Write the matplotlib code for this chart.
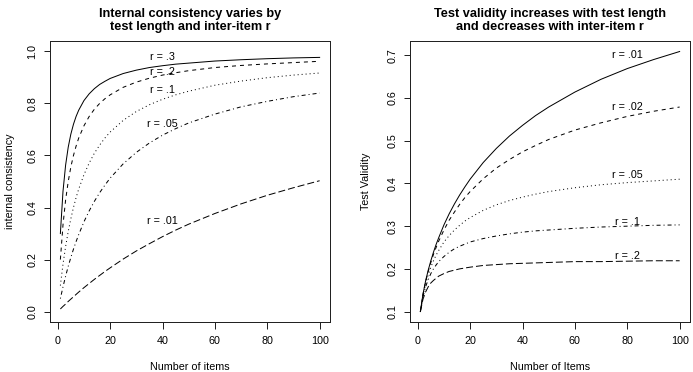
import matplotlib
matplotlib.use("Agg")
import matplotlib.pyplot as plt

plt.rcParams['font.family'] = ['Liberation Sans', 'DejaVu Sans']

# Number of items (x positions)
n_items = [1, 2, 3, 4, 5, 6, 7, 8, 10, 12, 14, 16, 18, 20, 25, 30, 35, 40, 45,
           50, 60, 70, 80, 90, 100]

# Left panel: internal consistency by inter-item r
ic_r30 = [.300, .462, .563, .632, .682, .720, .750, .774, .811, .837, .857, .873, .885,
          .896, .915, .928, .938, .945, .951, .955, .963, .968, .972, .975, .977]
ic_r20 = [.200, .333, .429, .500, .556, .600, .636, .667, .714, .750, .778, .800, .818,
          .833, .862, .882, .897, .909, .918, .926, .938, .946, .952, .957, .962]
ic_r10 = [.100, .182, .250, .308, .357, .400, .438, .471, .526, .571, .609, .640, .667,
          .690, .735, .769, .795, .816, .833, .847, .870, .886, .899, .909, .917]
ic_r05 = [.050, .095, .136, .174, .208, .240, .269, .296, .345, .387, .424, .457, .486,
          .513, .568, .612, .648, .678, .703, .725, .759, .787, .808, .826, .840]
ic_r01 = [.010, .020, .029, .039, .048, .057, .066, .075, .092, .108, .124, .139, .154,
          .168, .202, .233, .261, .288, .313, .336, .377, .414, .447, .476, .503]

# Right panel: test validity by inter-item r
tv_r01 = [.100, .141, .172, .197, .219, .239, .257, .273, .303, .329, .352, .373, .392,
          .410, .449, .482, .511, .536, .559, .579, .614, .644, .669, .690, .709]
tv_r02 = [.100, .140, .170, .194, .215, .234, .250, .265, .291, .314, .333, .351, .367,
          .381, .411, .436, .456, .474, .489, .503, .525, .542, .557, .569, .579]
tv_r05 = [.100, .138, .165, .186, .204, .219, .232, .243, .263, .278, .291, .302, .312,
          .320, .337, .350, .360, .368, .375, .381, .390, .397, .402, .406, .410]
tv_r10 = [.100, .135, .158, .175, .189, .200, .209, .217, .229, .239, .247, .253, .258,
          .263, .271, .277, .282, .286, .289, .291, .295, .298, .300, .302, .303]
tv_r20 = [.100, .129, .146, .158, .167, .173, .178, .183, .189, .194, .197, .200, .202,
          .204, .208, .210, .212, .213, .214, .215, .217, .217, .218, .219, .219]

left_labels = ["r = .3", "r = .2", "r = .1", "r = .05", "r = .01"]
left_label_y = [0.98, 0.92, 0.85, 0.72, 0.35]
right_labels = ["r = .01", "r = .02", "r = .05", "r = .1", "r = .2"]
right_label_y = [0.70, 0.58, 0.42, 0.31, 0.23]

styles = ['-', (0, (4, 4)), (0, (1, 3)), (0, (1, 3, 4, 3)), (0, (7, 3))]

FS = 10.7
TFS = 12.8

W, H = 693, 372
fig = plt.figure(figsize=(W / 72, H / 72), dpi=72)

def px_axes(x0, x1, y0, y1):
    return fig.add_axes([x0 / W, 1 - y1 / H, (x1 - x0) / W, (y1 - y0) / H])

axL = px_axes(50, 330, 41, 322)
axR = px_axes(410, 690, 41, 322)

def style_axes(ax):
    for s in ax.spines.values():
        s.set_color('#222222')
        s.set_linewidth(1)
    ax.tick_params(axis='x', direction='out', length=6.5, width=1, color='#222222',
                   labelsize=FS, pad=8)
    ax.tick_params(axis='y', direction='out', length=6.5, width=1, color='#222222',
                   labelsize=FS, pad=6)
    for lab in ax.get_yticklabels():
        lab.set_rotation(90)
        lab.set_va('center')

left_series = [ic_r30, ic_r20, ic_r10, ic_r05, ic_r01]
for ys, ls in zip(left_series, styles):
    axL.plot(n_items, ys, color='black', lw=1, linestyle=ls, dash_capstyle='butt')
for lab, y in zip(left_labels, left_label_y):
    axL.text(40, y, lab, ha='center', va='center', fontsize=FS)
axL.set_xlim(-2.96, 103.96)
axL.set_ylim(-0.04, 1.04)
axL.set_xticks([0, 20, 40, 60, 80, 100])
axL.set_yticks([0.0, 0.2, 0.4, 0.6, 0.8, 1.0])
axL.set_yticklabels(["0.0", "0.2", "0.4", "0.6", "0.8", "1.0"])
style_axes(axL)
axL.set_xlabel("Number of items", fontsize=FS, va='center')
axL.xaxis.set_label_coords(0.5, (322 - 367) / 281)
axL.set_ylabel("internal consistency", fontsize=FS, va='center')
axL.yaxis.set_label_coords((10 - 50) / 280, 0.5)
axL.set_title("Internal consistency varies by\ntest length and inter-item r",
              fontsize=TFS, fontweight='bold', pad=11, linespacing=1.1)

right_series = [tv_r01, tv_r02, tv_r05, tv_r10, tv_r20]
for ys, ls in zip(right_series, styles):
    axR.plot(n_items, ys, color='black', lw=1, linestyle=ls, dash_capstyle='butt')
for lab, y in zip(right_labels, right_label_y):
    axR.text(80, y, lab, ha='center', va='center', fontsize=FS)
axR.set_xlim(-2.96, 103.96)
axR.set_ylim(0.0756, 0.7336)
axR.set_xticks([0, 20, 40, 60, 80, 100])
axR.set_yticks([0.1, 0.2, 0.3, 0.4, 0.5, 0.6, 0.7])
axR.set_yticklabels(["0.1", "0.2", "0.3", "0.4", "0.5", "0.6", "0.7"])
style_axes(axR)
axR.set_xlabel("Number of Items", fontsize=FS, va='center')
axR.xaxis.set_label_coords(0.5, (322 - 367) / 281)
axR.set_ylabel("Test Validity", fontsize=FS, va='center')
axR.yaxis.set_label_coords((366 - 410) / 280, 0.5)
axR.set_title("Test validity increases with test length\nand decreases with inter-item r",
              fontsize=TFS, fontweight='bold', pad=11, linespacing=1.1)

fig.savefig("out.png", dpi=72)
